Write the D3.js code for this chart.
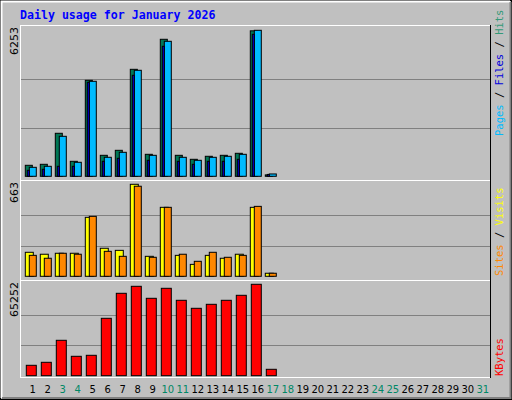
<!DOCTYPE html><html><head><meta charset="utf-8">
<script src="https://cdn.jsdelivr.net/npm/d3@7"></script>
<style>body{margin:0;background:#fff}</style></head><body>
<svg id="c" width="512" height="400"></svg>
<script>
const days = d3.range(1, 32).map(String);
const weekend = ["3","4","10","11","17","18","24","25","31"];
const pages = [471,514,1842,642,4111,899,1113,4582,942,5868,899,728,857,899,985,6230,60];
const files = [257,300,428,428,4026,642,771,4326,685,5568,642,514,642,642,728,6082,80];
const hits  = [385,428,1713,600,4069,814,1028,4540,899,5782,814,685,814,857,942,6253,100];
const visits= [173,159,166,166,425,202,187,663,144,497,151,86,151,130,159,497,22];
const sites = [151,130,166,159,432,180,144,649,137,497,159,108,173,137,151,504,22];
const kbytes= [7424,9566,25270,13850,14563,40977,58824,63820,55254,62394,53826,48115,50970,53826,57396,65252,4569];
const maxHits=6253, maxVisits=663, maxKb=65252;

const svg=d3.select("#c");
svg.append("rect").attr("x",0.5).attr("y",0.5).attr("width",511).attr("height",399).attr("fill","#c0c0c0").attr("stroke","#000");
svg.append("path").attr("d","M1.5,398V1.5H510").attr("stroke","#fff").attr("fill","none").attr("stroke-width",2);
svg.append("path").attr("d","M2,398H510.5V2").attr("stroke","#808080").attr("fill","none").attr("stroke-width",2);
svg.append("text").attr("x",20).attr("y",19).text("Daily usage for January 2026")
 .attr("font-family","DejaVu Sans Mono").attr("font-weight","bold").attr("font-size",11.6).attr("fill","#0000ff");

const x=d3.scaleBand().domain(days).range([25.3,490.3]).paddingInner(0).paddingOuter(0);
const panels=[{top:25,bot:176.3,max:maxHits,lab:"6253"},{top:180,bot:276.3,max:maxVisits,lab:"663"},{top:280,bot:375.7,max:maxKb,lab:"65252"}];
const tops=[30.3,184.3,284.3];
const ys=panels.map((p,i)=>d3.scaleLinear().domain([0,p.max]).range([p.bot,tops[i]]));
panels.forEach((p,i)=>{
  const h=p.bot-tops[i];
  [1,2].forEach(k=>svg.append("line").attr("x1",21).attr("x2",490).attr("y1",Math.round(p.bot-h*k/3)+0.5).attr("y2",Math.round(p.bot-h*k/3)+0.5).attr("stroke","#808080"));
  svg.append("line").attr("x1",20).attr("x2",491).attr("y1",p.top+0.5).attr("y2",p.top+0.5).attr("stroke","#fff");
  svg.append("text").attr("transform",`translate(18,${p.top+2}) rotate(-90)`).attr("text-anchor","end").text(p.lab)
   .attr("font-family","DejaVu Sans").attr("font-size",11).attr("fill","#000");
});
svg.append("line").attr("x1",20.5).attr("x2",20.5).attr("y1",25).attr("y2",378).attr("stroke","#fff");
svg.append("line").attr("x1",20).attr("x2",491).attr("y1",377.5).attr("y2",377.5).attr("stroke","#fff");
svg.append("line").attr("x1",490.5).attr("x2",490.5).attr("y1",25).attr("y2",378).attr("stroke","#000");

function bars(data,y,off,w,col){
  svg.append("g").selectAll("rect").data(data).join("rect")
   .attr("x",(d,i)=>x(days[i])+off).attr("y",d=>y(d)).attr("width",w).attr("height",d=>Math.max(1,y(0)-y(d)))
   .attr("fill",col).attr("stroke","#000").attr("stroke-width",1);
}
bars(pages,ys[0],0,7,"#007755");
bars(hits,ys[0],4,7,"#00bbff");
bars(files,ys[0],2,2,"#0000dd");
bars(visits,ys[1],0,8,"#ffff00");
bars(sites,ys[1],4,7,"#ff8800");
bars(kbytes,ys[2],1,10,"#ff0000");

svg.append("g").selectAll("text").data(days).join("text")
 .attr("x",d=>x(d)+x.bandwidth()/2).attr("y",393).attr("text-anchor","middle").text(d=>d)
 .attr("font-family","DejaVu Sans").attr("font-size",10).attr("fill",d=>weekend.includes(d)?"#008866":"#000");

function legend(parts,yb){
  const t=svg.append("text").attr("transform",`translate(503,${yb}) rotate(-90)`)
   .attr("font-family","DejaVu Sans Mono").attr("font-size",10.5);
  parts.forEach(([s,c])=>t.append("tspan").text(s).attr("fill",c));
}
legend([["Pages","#00bbff"],[" / ","#000"],["Files","#0000dd"],[" / ","#000"],["Hits","#339977"]],136);
legend([["Sites","#ff8800"],[" / ","#000"],["Visits","#ffff00"]],276);
legend([["KBytes","#ff0000"]],376);
</script></body></html>
